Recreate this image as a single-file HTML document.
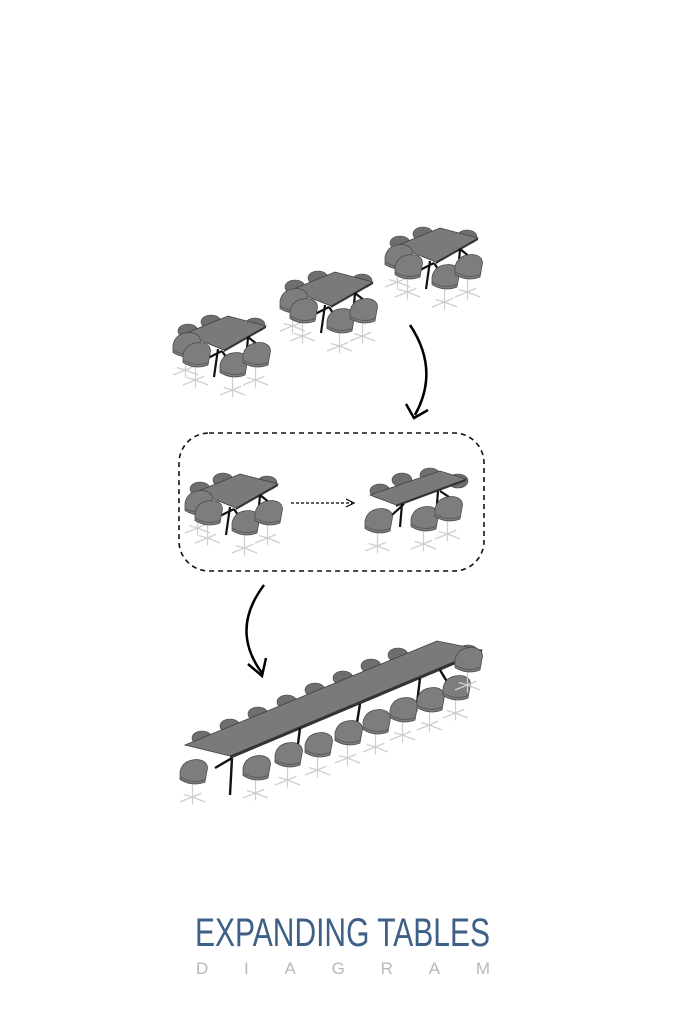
<!DOCTYPE html>
<html><head><meta charset="utf-8"><style>html,body{margin:0;padding:0;background:#fff}svg{display:block}</style></head>
<body>
<svg width="684" height="1024" viewBox="0 0 684 1024" xmlns="http://www.w3.org/2000/svg">
<defs>
<g id="chairB"><ellipse cx="0" cy="0" rx="10" ry="7" fill="#6e6e6e" stroke="#444" stroke-width="0.6"/></g>
<g id="chairF" transform="scale(1.25)">
 <path d="M-2,8 L-2,20 M-2,20 L-12,24 M-2,20 L8,24 M-2,20 L-2,26 M-2,20 L-9,18 M-2,20 L5,17" stroke="#cfcfcf" stroke-width="1" fill="none"/>
 <path d="M-12,0 Q-10,-10 2,-10 Q10,-9 10,-3 L8,8 Q-2,12 -12,6 Z" fill="#7d7d7d" stroke="#4a4a4a" stroke-width="0.6"/>
 <path d="M-12,4 Q-2,10 8,6" stroke="#5a5a5a" stroke-width="0.8" fill="none"/>
</g>
<g id="set">
 <use href="#chairB" x="10" y="16"/>
 <use href="#chairB" x="33" y="7"/>
 <use href="#chairB" x="77" y="10"/>
 <polygon points="6,19 50,1 88,11 46,35" fill="#7a7a7a" stroke="#3f3f3f" stroke-width="0.8"/>
 <polygon points="46,35 88,11 88,13 46,37" fill="#333"/>
 <path d="M40,34 L36,62 M44,36 L28,44 M44,36 L50,45 M70,22 L68,46 M70,22 L80,30" stroke="#111" stroke-width="2.2" fill="none"/>
 <use href="#chairF" x="10" y="30"/>
 <use href="#chairF" x="20" y="40"/>
 <use href="#chairF" x="57" y="50"/>
 <use href="#chairF" x="80" y="40"/>
</g>
<g id="setL">
 <use href="#chairB" x="12" y="20"/>
 <use href="#chairB" x="34" y="9"/>
 <use href="#chairB" x="62" y="4"/>
 <use href="#chairB" x="90" y="10"/>
 <polygon points="2,24 72,0 98,8 28,34" fill="#7a7a7a" stroke="#3f3f3f" stroke-width="0.8"/>
 <polygon points="28,34 98,8 98,10 28,36" fill="#333"/>
 <path d="M34,33 L32,56 M36,33 L24,44 M70,20 L68,46 M72,20 L84,28" stroke="#111" stroke-width="2.2" fill="none"/>
 <use href="#chairF" x="12" y="50"/>
 <use href="#chairF" x="58" y="48"/>
 <use href="#chairF" x="82" y="38"/>
</g>
</defs>

<use href="#set" x="178" y="315"/>
<use href="#set" x="285" y="271"/>
<use href="#set" x="390" y="227"/>

<path d="M410,325 Q440,370 415,415" stroke="#000" stroke-width="2.5" fill="none"/>
<path d="M406,404 L414,418 L428,410" stroke="#000" stroke-width="2.5" fill="none"/>

<rect x="179" y="433" width="305" height="138" rx="30" fill="none" stroke="#111" stroke-width="1.6" stroke-dasharray="5,4"/>
<use href="#set" x="190" y="473"/>
<use href="#setL" x="368" y="471"/>
<line x1="291" y1="503" x2="352" y2="503" stroke="#000" stroke-width="1.2" stroke-dasharray="3,2"/>
<path d="M346,499 L354,503 L346,507" stroke="#000" stroke-width="1.2" fill="none"/>

<path d="M264,585 Q230,630 262,673" stroke="#000" stroke-width="2.5" fill="none"/>
<path d="M248,664 L262,676 L266,658" stroke="#000" stroke-width="2.5" fill="none"/>

<g>
 <use href="#chairB" x="202" y="738"/><use href="#chairB" x="230" y="726"/><use href="#chairB" x="258" y="714"/><use href="#chairB" x="287" y="702"/><use href="#chairB" x="315" y="690"/><use href="#chairB" x="343" y="678"/><use href="#chairB" x="371" y="666"/><use href="#chairB" x="398" y="655"/><use href="#chairB" x="468" y="652"/>
 <polygon points="185,745 437,641 482,650 230,756" fill="#7a7a7a" stroke="#3f3f3f" stroke-width="0.8"/>
 <polygon points="230,756 482,650 482,653 230,759" fill="#333"/>
 <path d="M232,758 L230,795 M232,758 L215,768 M300,728 L296,760 M360,704 L355,735 M420,678 L416,712 M440,670 L452,690" stroke="#111" stroke-width="2.4" fill="none"/>
 <use href="#chairF" x="195" y="772"/><use href="#chairF" x="258" y="768"/><use href="#chairF" x="290" y="755"/><use href="#chairF" x="320" y="745"/><use href="#chairF" x="350" y="733"/><use href="#chairF" x="378" y="722"/><use href="#chairF" x="405" y="710"/><use href="#chairF" x="432" y="700"/><use href="#chairF" x="458" y="688"/><use href="#chairF" x="470" y="660"/>
</g>

<text x="195" y="946" font-family="Liberation Sans Narrow, Liberation Sans, sans-serif" font-size="40" fill="#3e5f86" textLength="295" lengthAdjust="spacingAndGlyphs">EXPANDING TABLES</text>
<text x="196" y="974" font-family="Liberation Sans, sans-serif" font-size="17" fill="#b8b8b8" textLength="294" lengthAdjust="spacing">DIAGRAM</text>
</svg>
</body></html>
